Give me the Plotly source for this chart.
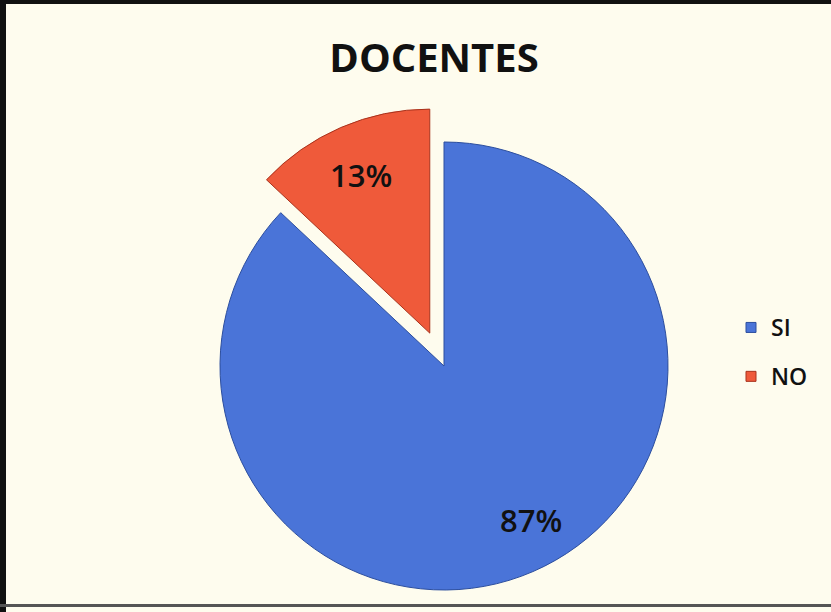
import math
import plotly.graph_objects as go

# Survey answers (teachers)
labels = ["SI", "NO"]
values = [87, 13]
colors = ["#4A74D8", "#EF5A3A"]
edge_colors = ["#2C4E9E", "#A8321C"]

title_text = "DOCENTES"

W, H = 831, 612
PAPER = "#FEFCEE"

# pie geometry in pixels (center measured from top-left), radius and pull of the "NO" slice
cx, cy, r = 444, 366, 224
pull = 0.16

# label placement per slice: (fraction of radius, angular offset in degrees from the bisector)
label_place = [(0.79, -6.0), (0.77, 0.0)]

total = sum(values)
shares = [v / total for v in values]

# bisector angles, clockwise from 12 o'clock
bisect = []
acc = 0.0
for s in shares:
    bisect.append(360 * (acc + s / 2))
    acc += s

# offset of the exploded NO slice along its bisector
theta = math.radians(bisect[1])
dx = r * pull * math.sin(theta)
dy = -r * pull * math.cos(theta)  # screen y grows downward
centers = [(cx, cy), (cx + dx, cy + dy)]


def domain(cx_px, cy_px):
    yb = H - cy_px
    return dict(x=[(cx_px - r) / W, (cx_px + r) / W], y=[(yb - r) / H, (yb + r) / H])


fig = go.Figure()

# main pie: SI slice drawn, NO slice left empty
fig.add_trace(go.Pie(
    labels=labels, values=values, sort=False, direction="clockwise", rotation=0,
    marker=dict(colors=[colors[0], "rgba(0,0,0,0)"],
                line=dict(color=[edge_colors[0], "rgba(0,0,0,0)"], width=1)),
    textinfo="none", domain=domain(*centers[0]), showlegend=False, hoverinfo="skip",
))

# exploded NO slice, shifted outward along its bisector
fig.add_trace(go.Pie(
    labels=labels, values=values, sort=False, direction="clockwise", rotation=0,
    marker=dict(colors=["rgba(0,0,0,0)", colors[1]],
                line=dict(color=["rgba(0,0,0,0)", edge_colors[1]], width=1)),
    textinfo="none", domain=domain(*centers[1]), showlegend=False, hoverinfo="skip",
))

# percentage labels inside each slice
annotations = []
for i, s in enumerate(shares):
    frac, off = label_place[i]
    a = math.radians(bisect[i] + off)
    px = centers[i][0] + frac * r * math.sin(a)
    py = centers[i][1] - frac * r * math.cos(a)
    annotations.append(dict(
        x=px / W, y=1 - py / H, xref="paper", yref="paper",
        xanchor="center", yanchor="middle",
        text=f"{round(s * 100)}%", showarrow=False,
        font=dict(family="Open Sans", size=31, color="#111111", weight=600),
    ))

# legend entries
for i, (lab, col) in enumerate(zip(labels, colors)):
    fig.add_trace(go.Scatter(
        x=[None], y=[None], mode="markers", name=lab, legendgroup=lab,
        marker=dict(symbol="square", size=10, color=col,
                    line=dict(color=edge_colors[i], width=1)),
    ))

fig.update_layout(
    width=W, height=H,
    margin=dict(l=0, r=0, t=0, b=0),
    paper_bgcolor=PAPER, plot_bgcolor=PAPER,
    xaxis=dict(visible=False), yaxis=dict(visible=False),
    title=dict(text=f"<b>{title_text}</b>", x=434 / W, xanchor="center",
               y=1 - 58 / H, yanchor="middle",
               font=dict(family="Open Sans", size=40, color="#111111")),
    legend=dict(x=731 / W, xanchor="left", y=1 - 306 / H, yanchor="top",
                bgcolor="rgba(0,0,0,0)", tracegroupgap=16, traceorder="grouped",
                font=dict(family="Open Sans", size=23, color="#111111", weight=600)),
    annotations=annotations,
    shapes=[
        dict(type="rect", xref="paper", yref="paper", x0=0, x1=1,
             y0=1 - 4 / H, y1=1, fillcolor="#111111", line_width=0),
        dict(type="rect", xref="paper", yref="paper", x0=0, x1=6 / W,
             y0=0, y1=1, fillcolor="#111111", line_width=0),
        dict(type="rect", xref="paper", yref="paper", x0=0, x1=1,
             y0=5 / H, y1=8 / H, fillcolor="#555555", line_width=0),
    ],
)

fig.write_html("out.html")
